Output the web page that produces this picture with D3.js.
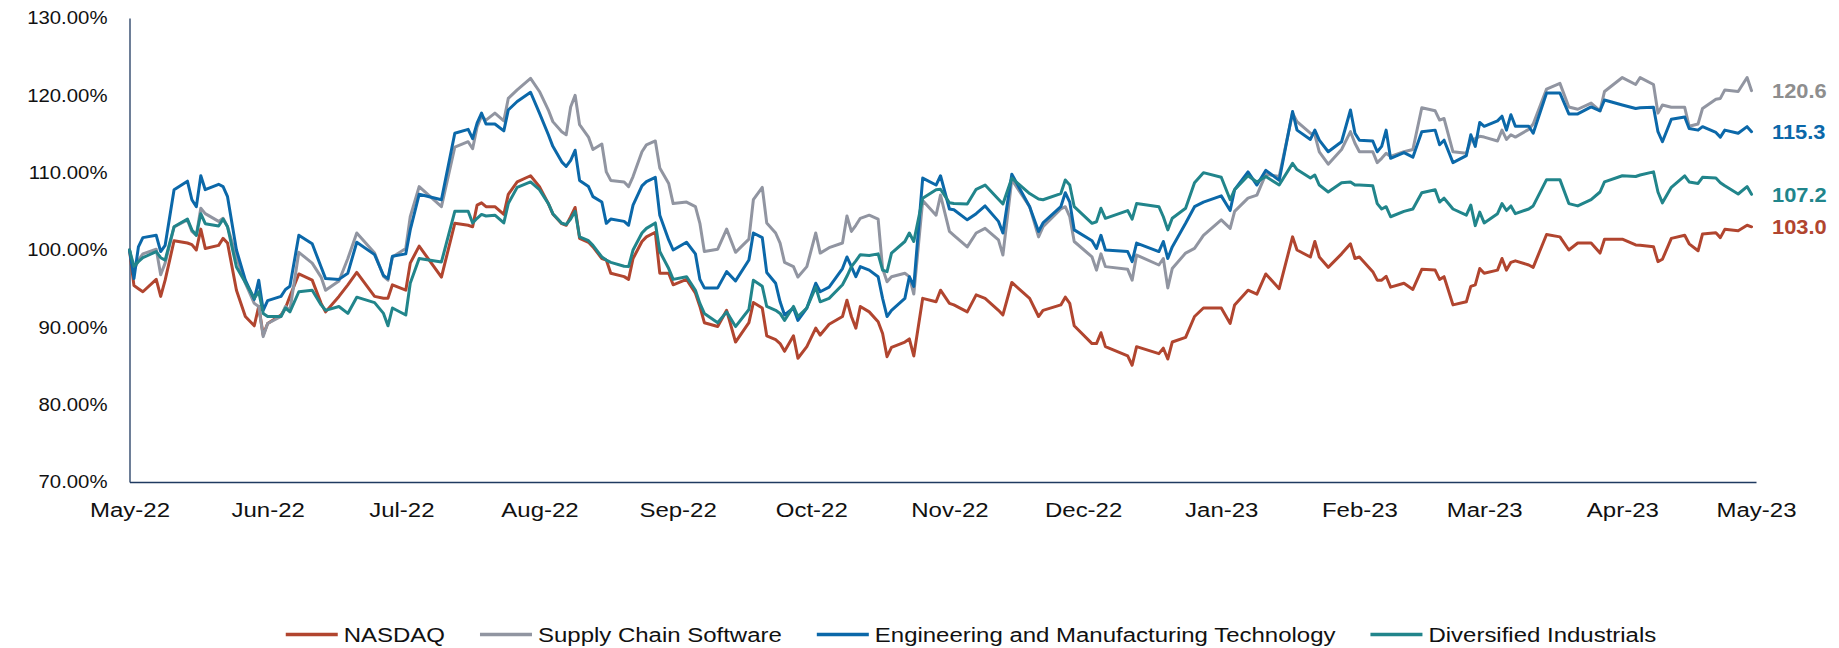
<!DOCTYPE html>
<html>
<head>
<meta charset="utf-8">
<script src="https://cdn.jsdelivr.net/npm/d3@7"></script>
<style>
  body { margin: 0; background: #fff; }
  svg { display: block; }
  text { font-family: "Liberation Sans", Arial, sans-serif; }
</style>
</head>
<body>
<svg id="chart" width="1839" height="648"></svg>
<script>
// Observation dates (indexed performance, 100 = start)
const dates = [
  "2022-05-01","2022-05-02","2022-05-03","2022-05-04","2022-05-07","2022-05-08","2022-05-09","2022-05-11","2022-05-14","2022-05-15","2022-05-16","2022-05-17","2022-05-18","2022-05-21","2022-05-22","2022-05-23","2022-05-25","2022-05-27","2022-05-29","2022-05-30","2022-05-31",
  "2022-06-01","2022-06-04","2022-06-05","2022-06-06","2022-06-08","2022-06-11","2022-06-13","2022-06-14","2022-06-17","2022-06-19","2022-06-21","2022-06-25","2022-06-27","2022-06-28","2022-06-29",
  "2022-07-02","2022-07-03","2022-07-05","2022-07-10","2022-07-13","2022-07-16","2022-07-17","2022-07-18","2022-07-19","2022-07-20","2022-07-22","2022-07-24","2022-07-25","2022-07-27","2022-07-30",
  "2022-08-01","2022-08-03","2022-08-04","2022-08-06","2022-08-07","2022-08-08","2022-08-09","2022-08-10","2022-08-12","2022-08-13","2022-08-15","2022-08-16","2022-08-17","2022-08-20","2022-08-21","2022-08-22","2022-08-24","2022-08-25","2022-08-27","2022-08-28","2022-08-30","2022-08-31",
  "2022-09-03","2022-09-05","2022-09-06","2022-09-07","2022-09-10","2022-09-12","2022-09-14","2022-09-17","2022-09-18","2022-09-20","2022-09-21","2022-09-23","2022-09-24","2022-09-25","2022-09-27","2022-09-28","2022-09-30",
  "2022-10-02","2022-10-03","2022-10-05","2022-10-08","2022-10-09","2022-10-10","2022-10-11","2022-10-12","2022-10-14","2022-10-16","2022-10-17","2022-10-18","2022-10-19","2022-10-22","2022-10-23","2022-10-24","2022-10-26","2022-10-29","2022-10-30",
  "2022-11-01","2022-11-02","2022-11-05","2022-11-07","2022-11-09","2022-11-12","2022-11-13","2022-11-15","2022-11-19","2022-11-21","2022-11-22","2022-11-26","2022-11-27","2022-11-28","2022-11-29",
  "2022-12-03","2022-12-04","2022-12-05","2022-12-06","2022-12-11","2022-12-12","2022-12-13","2022-12-18","2022-12-19","2022-12-20","2022-12-21","2022-12-24","2022-12-26","2022-12-28",
  "2023-01-01","2023-01-03","2023-01-04","2023-01-07","2023-01-09","2023-01-11","2023-01-14","2023-01-17","2023-01-18","2023-01-21","2023-01-22","2023-01-23","2023-01-25","2023-01-28","2023-01-30","2023-01-31",
  "2023-02-01","2023-02-04","2023-02-05","2023-02-06","2023-02-07","2023-02-08","2023-02-11","2023-02-13","2023-02-15","2023-02-18","2023-02-19","2023-02-20","2023-02-22","2023-02-25","2023-02-26","2023-02-27","2023-02-28",
  "2023-03-01","2023-03-04","2023-03-05","2023-03-06","2023-03-07","2023-03-08","2023-03-11","2023-03-12","2023-03-15","2023-03-18","2023-03-20","2023-03-22","2023-03-25","2023-03-27","2023-03-28",
  "2023-04-01","2023-04-04","2023-04-05","2023-04-08","2023-04-09","2023-04-10","2023-04-12","2023-04-15","2023-04-16","2023-04-18","2023-04-19","2023-04-22","2023-04-23","2023-04-24","2023-04-27","2023-04-29","2023-04-30"
];

const nasdaq = [
  100, 95.4, 95.0, 94.6, 96.2, 94.0, 96.1, 101.2, 100.9, 100.7, 100.0, 102.7, 100.2, 100.6, 101.5, 100.9, 94.8, 91.4, 90.2, 92.7, 89.0,
  90.5, 91.6, 92.5, 94.0, 96.9, 96.1, 93.1, 92.0, 94.0, 95.5, 97.1, 94.0, 93.75, 93.75, 95.5,
  94.8, 98.3, 100.5, 96.5, 103.45, 103.2, 103.0, 105.8, 106.1, 105.6, 105.6, 104.6, 107.2, 108.8, 109.6,
  108.2, 106.0, 104.67, 103.4, 103.2, 104.3, 105.5, 101.5, 101.0, 100.4, 98.9, 98.7, 97.0, 96.56, 96.2, 98.9, 101.1, 101.7, 102.3, 97.0, 97.0, 95.5,
  96.2, 94.4, 92.7, 90.6, 90.1, 92.2, 88.1, 90.6, 93.2, 92.5, 88.9, 88.4, 87.9, 86.9, 88.9, 86.0, 87.5,
  89.9, 89.0, 90.4, 91.4, 93.5, 91.4, 89.9, 92.7, 92.0, 90.73, 89.2, 86.2, 87.4, 88.1, 88.5, 86.3, 93.75, 93.3, 94.8,
  93.1, 92.9, 92.0, 94.2, 93.75, 92.2, 91.6, 95.8, 93.75, 91.4, 92.2, 92.9, 93.9, 93.1, 90.2,
  87.9, 87.9, 89.3, 87.5, 86.3, 85.1, 87.5, 86.6, 87.3, 85.9, 88.1, 88.7, 91.4, 92.5,
  92.5, 90.5, 92.9, 94.8, 94.3, 96.9, 95.0, 101.7, 100.0, 99.1, 101.1, 99.1, 97.76, 99.5, 100.8, 98.9,
  99.1, 97.2, 96.1, 96.1, 96.6, 95.2, 95.7, 94.9, 97.5, 97.4, 96.2, 96.55, 92.9, 93.3, 95.3, 95.5, 97.6,
  97.0, 97.4, 98.9, 97.4, 98.4, 98.6, 98.06, 97.76, 102.0, 101.7, 100.0, 100.9, 100.9, 99.6, 101.4,
  101.4, 100.65, 100.6, 100.43, 98.5, 98.8, 101.5, 101.9, 100.8, 99.9, 102.07, 102.24, 101.6, 102.67, 102.5, 103.2, 103.0
];

const supplyChain = [
  100, 97.4, 98.7, 99.5, 100.1, 96.8, 98.3, 103.0, 103.9, 102.4, 101.9, 105.4, 104.7, 103.7, 104.1, 103.0, 99.1, 95.7, 93.1, 92.7, 88.8,
  90.5, 91.4, 92.7, 92.2, 99.7, 98.3, 96.5, 94.8, 96.0, 98.9, 102.2, 99.6, 96.6, 96.1, 99.1,
  100.2, 104.3, 108.2, 105.6, 113.3, 114.0, 113.1, 115.9, 117.3, 116.8, 117.7, 116.7, 119.6, 120.7, 122.2,
  120.5, 118.1, 116.6, 115.3, 114.9, 118.5, 120.0, 116.2, 114.6, 113.0, 113.7, 110.1, 109.0, 108.8, 108.2, 109.5, 112.7, 113.6, 114.1, 110.6, 108.6, 106.0,
  106.2, 105.6, 103.45, 99.8, 100.1, 102.7, 99.7, 101.4, 106.5, 108.1, 103.5, 102.2, 100.9, 98.4, 97.85, 96.5, 97.85,
  102.2, 99.6, 100.3, 100.9, 104.4, 102.4, 103.2, 104.1, 104.5, 104.0, 97.6, 95.9, 96.55, 97.0, 96.55, 94.3, 106.4, 104.5, 107.1,
  102.4, 101.9, 100.4, 102.2, 102.8, 101.3, 99.35, 109.1, 105.6, 101.7, 103.0, 105.3, 105.6, 104.3, 101.1,
  99.1, 97.4, 99.5, 97.85, 97.5, 96.1, 99.35, 98.06, 98.9, 95.1, 97.6, 99.6, 100.2, 101.9,
  103.9, 102.8, 105.0, 106.7, 107.1, 109.8, 109.5, 117.7, 116.6, 115.1, 114.9, 112.7, 111.1, 113.0, 115.3, 113.8,
  112.7, 112.7, 111.3, 111.85, 112.5, 112.1, 112.7, 113.0, 118.4, 118.0, 116.8, 117.0, 112.7, 112.5, 114.2, 114.4, 114.7,
  114.6, 114.1, 115.5, 114.3, 114.9, 114.6, 115.6, 116.3, 120.8, 121.55, 118.5, 118.2, 119.0, 118.0, 120.5,
  122.3, 121.4, 122.3, 121.4, 117.7, 118.75, 118.45, 118.45, 116.0, 116.3, 118.3, 119.5, 119.6, 120.7, 120.5, 122.3, 120.6
];

const engMfg = [
  100, 96.3, 100.4, 101.6, 101.9, 99.8, 100.6, 107.8, 108.9, 106.5, 105.6, 109.6, 107.8, 108.5, 108.2, 106.9, 100.0, 96.1, 93.6, 96.1, 92.2,
  93.45, 94.0, 94.9, 95.3, 101.9, 100.8, 97.8, 96.3, 96.2, 97.0, 101.0, 99.4, 96.7, 96.3, 99.2,
  99.5, 102.6, 107.2, 106.5, 115.1, 115.6, 114.4, 116.4, 117.7, 116.3, 116.3, 115.4, 118.1, 119.2, 120.4,
  117.7, 114.9, 113.4, 111.4, 110.8, 111.6, 112.9, 109.0, 108.2, 106.9, 106.2, 103.45, 104.0, 103.7, 103.2, 105.8, 108.3, 108.85, 109.4, 104.5, 101.3, 100.0,
  101.0, 99.5, 96.2, 95.1, 95.1, 97.2, 96.0, 98.7, 102.2, 101.6, 97.1, 95.7, 93.3, 91.6, 92.5, 90.9, 92.5,
  95.7, 94.6, 95.2, 97.6, 99.1, 97.85, 96.55, 97.85, 97.4, 96.55, 93.75, 91.4, 92.2, 93.75, 96.55, 95.3, 109.3, 108.4, 109.6,
  105.3, 105.2, 103.9, 104.7, 105.7, 103.7, 102.2, 109.8, 105.6, 102.4, 103.5, 105.6, 107.4, 106.2, 102.6,
  101.2, 100.2, 101.9, 100.0, 99.8, 98.5, 100.9, 99.8, 101.1, 98.9, 100.4, 103.45, 105.6, 106.2,
  107.0, 105.1, 107.8, 110.1, 108.4, 110.3, 109.0, 117.9, 115.5, 114.3, 115.5, 114.2, 112.7, 114.0, 118.1, 115.1,
  114.2, 114.1, 112.7, 113.4, 115.5, 111.85, 112.6, 112.0, 115.3, 115.5, 113.6, 114.2, 111.3, 112.2, 114.9, 113.4, 116.5,
  116.0, 116.7, 117.3, 115.5, 117.5, 116.0, 116.0, 115.1, 120.3, 120.3, 117.6, 117.6, 118.5, 118.0, 119.4,
  118.75, 118.3, 118.4, 118.45, 115.3, 114.0, 116.9, 117.2, 115.7, 115.5, 115.95, 115.2, 114.6, 115.5, 115.1, 115.95, 115.3
];

const diversified = [
  100, 97.9, 98.5, 99.0, 99.8, 99.0, 98.7, 103.0, 104.0, 102.6, 101.9, 104.7, 103.4, 103.1, 104.0, 103.0, 97.8, 95.8, 93.75, 94.6, 91.8,
  91.4, 91.4, 92.5, 92.0, 94.6, 94.8, 92.9, 92.2, 92.7, 91.8, 93.9, 93.2, 91.8, 90.2, 92.5,
  91.6, 95.7, 98.9, 98.45, 105.0, 105.0, 103.5, 104.1, 104.6, 104.4, 104.5, 103.5, 106.0, 108.1, 108.8,
  107.8, 106.0, 104.7, 103.45, 103.3, 104.0, 105.0, 101.7, 101.2, 100.6, 99.1, 98.7, 98.4, 97.9, 97.85, 100.0, 102.2, 102.8, 103.5, 99.8, 97.6, 96.2,
  96.55, 94.8, 93.1, 91.8, 90.6, 92.0, 90.1, 92.3, 96.1, 95.3, 92.7, 92.2, 91.8, 90.9, 92.7, 91.4, 92.5,
  95.2, 93.3, 93.75, 95.5, 96.6, 97.85, 98.6, 99.4, 99.3, 99.5, 97.4, 97.2, 99.6, 101.1, 102.2, 101.1, 106.7, 107.8, 107.85,
  106.1, 106.0, 105.95, 107.85, 108.4, 106.55, 105.95, 109.3, 107.3, 106.6, 106.5, 107.3, 109.05, 108.4, 105.6,
  103.45, 103.65, 105.4, 104.1, 105.1, 104.0, 106.0, 105.6, 104.3, 102.6, 104.1, 105.4, 108.7, 110.0,
  109.4, 106.5, 107.8, 109.6, 108.8, 109.5, 108.4, 111.2, 110.4, 109.3, 109.7, 108.4, 107.5, 108.7, 108.8, 108.4,
  108.4, 108.3, 106.0, 105.3, 105.6, 104.3, 105.0, 105.3, 107.4, 107.8, 106.2, 106.7, 105.3, 104.5, 105.8, 103.15, 104.9,
  103.5, 104.7, 106.0, 105.1, 105.7, 104.7, 105.3, 105.7, 109.1, 109.1, 106.0, 105.7, 106.5, 107.5, 108.8,
  109.6, 109.5, 109.7, 110.1, 107.5, 106.1, 108.1, 109.6, 108.8, 108.6, 109.4, 109.3, 108.7, 108.3, 107.24, 108.2, 107.2
];

const seriesNames = ["NASDAQ", "Supply Chain Software", "Engineering and Manufacturing Technology", "Diversified Industrials"];
const seriesValues = [nasdaq, supplyChain, engMfg, diversified];
const seriesColors = ["#b1452f", "#9195a1", "#0b68a9", "#21858b"];
const labelColors = ["#b1452f", "#8e8e8e", "#0b68a9", "#21858b"];

const yTicks = [70, 80, 90, 100, 110, 120, 130];
const monthTicks = ["2022-05-01","2022-06-01","2022-07-01","2022-08-01","2022-09-01","2022-10-01","2022-11-01",
                    "2022-12-01","2023-01-01","2023-02-01","2023-03-01","2023-04-01","2023-05-01"];

// ---- layout ----
const plot = { left: 129.5, right: 1756, top: 18, bottom: 482 };
const stretch = 1.23;          // horizontally widened lettering (x axis, legend)
const axisColor = "#1f3a60";

const parse = d3.utcParse("%Y-%m-%d");
const dateObjs = dates.map(parse);

const x = d3.scaleUtc()
  .domain([parse("2022-05-01"), parse("2023-05-01")])
  .range([plot.left, plot.right]);
const y = d3.scaleLinear().domain([70, 130]).range([plot.bottom, plot.top]);

const svg = d3.select("#chart");

// y axis
const yAxis = svg.append("g")
  .attr("transform", `translate(${plot.left},0)`)
  .call(d3.axisLeft(y).tickValues(yTicks).tickSize(0).tickSizeOuter(0).tickPadding(22)
    .tickFormat(d => d.toFixed(2) + "%"));
yAxis.attr("font-size", 18.5).attr("font-family", null);
yAxis.select(".domain").attr("stroke", axisColor).attr("stroke-width", 1.3);
yAxis.selectAll(".tick text")
  .attr("fill", "#111")
  .attr("x", null)
  .attr("transform", "translate(-22,0) scale(1.1,1)");

// x axis
const xAxis = svg.append("g")
  .attr("transform", `translate(0,${plot.bottom})`)
  .call(d3.axisBottom(x).tickValues(monthTicks.map(parse)).tickSize(0).tickSizeOuter(0).tickPadding(21)
    .tickFormat(d3.utcFormat("%b-%y")));
xAxis.attr("font-size", 19.5).attr("font-family", null);
xAxis.select(".domain").attr("stroke", axisColor).attr("stroke-width", 1.3);
xAxis.selectAll(".tick text")
  .attr("fill", "#111")
  .attr("transform", `scale(${stretch},1)`);

// series lines
const line = d3.line()
  .x((d, i) => x(dateObjs[i]))
  .y(d => y(d));

svg.append("g")
  .selectAll("path")
  .data(seriesValues)
  .join("path")
  .attr("d", d => line(d))
  .attr("fill", "none")
  .attr("stroke", (d, i) => seriesColors[i])
  .attr("stroke-width", 3)
  .attr("stroke-linejoin", "round")
  .attr("stroke-linecap", "round");

// end-of-line value labels
svg.append("g")
  .selectAll("text")
  .data(seriesValues)
  .join("text")
  .attr("transform", d => `translate(1772,${y(d[d.length - 1])}) scale(1.04,1)`)
  .attr("dy", "0.36em")
  .attr("font-size", 21)
  .attr("font-weight", "bold")
  .attr("fill", (d, i) => labelColors[i])
  .text(d => d[d.length - 1].toFixed(1));

// legend
const legendY = 634.5, swatch = 52, pad = 6, gap = 35, legendCenter = 971;
const legend = svg.append("g");
const items = legend.selectAll("g").data(seriesNames).join("g");
items.append("line")
  .attr("x1", 0).attr("x2", swatch)
  .attr("y1", 0).attr("y2", 0)
  .attr("stroke", (d, i) => seriesColors[i])
  .attr("stroke-width", 3.5);
const labels = items.append("text")
  .attr("font-size", 19.5)
  .attr("fill", "#111")
  .attr("dy", "0.36em")
  .attr("transform", `translate(${swatch + pad},0) scale(${stretch},1)`)
  .text(d => d);
const widths = labels.nodes().map(n => n.getComputedTextLength() * stretch);
const total = d3.sum(widths) + seriesNames.length * (swatch + pad) + gap * (seriesNames.length - 1);
let cursor = legendCenter - total / 2;
items.attr("transform", (d, i) => {
  const t = `translate(${cursor},${legendY})`;
  cursor += swatch + pad + widths[i] + gap;
  return t;
});
</script>
</body>
</html>
